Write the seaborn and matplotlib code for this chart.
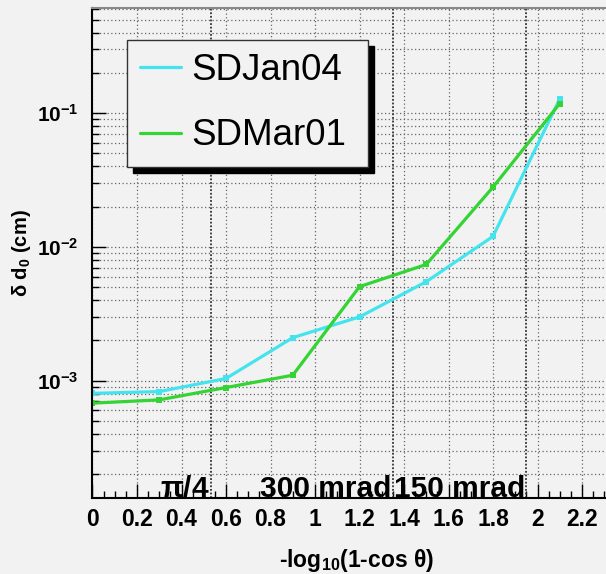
import numpy as np
import pandas as pd
import matplotlib
matplotlib.use("Agg")
import matplotlib.pyplot as plt
import matplotlib.ticker as mticker
import seaborn as sns
from matplotlib.lines import Line2D

# ---- data ----
x_vals = [0.0, 0.3, 0.6, 0.9, 1.2, 1.5, 1.8, 2.1]
sd_jan04 = [8.05e-4, 8.3e-4, 1.04e-3, 2.1e-3, 3.0e-3, 5.5e-3, 1.2e-2, 0.128]
sd_mar01 = [6.8e-4, 7.2e-4, 8.9e-4, 1.1e-3, 5.05e-3, 7.4e-3, 2.8e-2, 0.118]
series_names = ["SDJan04", "SDMar01"]
series_colors = ["#44e4ee", "#33d433"]
angle_values = [np.pi / 4, 0.300, 0.150]
angle_labels = [r"$\pi$/4", "300 mrad", "150 mrad"]
x_ticks = [0, 0.2, 0.4, 0.6, 0.8, 1, 1.2, 1.4, 1.6, 1.8, 2, 2.2]
x_tick_labels = ["0", "0.2", "0.4", "0.6", "0.8", "1", "1.2", "1.4", "1.6", "1.8", "2", "2.2"]

df = pd.DataFrame({
    "x": x_vals + x_vals,
    "y": sd_jan04 + sd_mar01,
    "series": [series_names[0]] * len(x_vals) + [series_names[1]] * len(x_vals),
})

sns.set_style("ticks")
bg = "#f2f2f2"
plt.rcParams.update({
    "font.family": ["Liberation Sans", "DejaVu Sans"],
    "mathtext.fontset": "custom",
    "mathtext.rm": "Liberation Sans:bold",
    "mathtext.bf": "Liberation Sans:bold",
    "mathtext.it": "Liberation Sans:bold:italic",
    "mathtext.default": "bf",
    "figure.facecolor": bg,
    "axes.facecolor": bg,
    "text.color": "black",
    "axes.labelcolor": "black",
    "xtick.color": "black",
    "ytick.color": "black",
    "xtick.labelcolor": "black",
    "ytick.labelcolor": "black",
})

W, H = 606, 574
fig = plt.figure(figsize=(W / 100, H / 100), dpi=100)
left_px, right_px, top_px, bot_px = 92.5, 620, 7.5, 498
ax = fig.add_axes([left_px / W, 1 - bot_px / H, (right_px - left_px) / W, (bot_px - top_px) / H])
px_per_unit = 222.5

sns.lineplot(data=df, x="x", y="y", hue="series", palette=series_colors,
             marker="s", markersize=4.5, markeredgewidth=0, linewidth=2.3,
             ax=ax, legend=False)

ax.set_yscale("log")
ax.set_xlim(0, (right_px - left_px) / px_per_unit)
ax.set_ylim(1.33e-4, 0.616)

ax.set_xticks(x_ticks)
ax.set_xticklabels(x_tick_labels, fontsize=16.5, fontweight="bold")
ax.xaxis.set_minor_locator(mticker.MultipleLocator(0.05))
ax.yaxis.set_major_locator(mticker.LogLocator(base=10, numticks=10))
ax.yaxis.set_minor_locator(mticker.LogLocator(base=10, subs=np.arange(2, 10), numticks=20))
ax.yaxis.set_minor_formatter(mticker.NullFormatter())
ax.yaxis.set_major_formatter(mticker.FuncFormatter(
    lambda v, p: r"$\mathbf{10^{%d}}$" % int(round(np.log10(v)))))

ax.tick_params(axis="both", which="major", direction="in", length=10, width=1,
               color="black", labelcolor="black")
ax.tick_params(axis="x", which="major", labelsize=16.5, pad=7)
ax.tick_params(axis="y", which="major", labelsize=15, pad=10)
ax.tick_params(axis="both", which="minor", direction="in", length=5, width=1, color="black")
ax.tick_params(top=False, right=False, which="both")

# grid
ax.grid(True, which="major", axis="x", color="#666666", linestyle=(0, (1, 2)), linewidth=0.9)
ax.grid(True, which="both", axis="y", color="#666666", linestyle=(0, (1, 2)), linewidth=0.9)
ax.set_axisbelow(True)

# angle reference lines
for ang, lab in zip(angle_values, angle_labels):
    xa = -np.log10(1 - np.cos(ang))
    ax.axvline(xa, color="#333333", linestyle=(0, (1, 1)), linewidth=1.3, zorder=1)
    ax.text(xa - 0.005, 0.002, lab, transform=ax.get_xaxis_transform(),
            ha="right", va="baseline", fontsize=21.5, fontweight="bold", color="black", zorder=6)

# spines
for s in ["left", "bottom"]:
    ax.spines[s].set_color("black")
    ax.spines[s].set_linewidth(1.5)
ax.spines["top"].set_color("#888888")
ax.spines["top"].set_linewidth(1.5)
ax.spines["right"].set_visible(False)

ax.set_xlabel(r"-log$_{10}$(1-cos $\theta$)", fontsize=16.5, fontweight="bold", labelpad=12,
              color="black")
ax.set_ylabel(r"$\delta$ d$_{0}$ (cm)", fontsize=14.5, fontweight="bold", color="black")
ax.yaxis.set_label_coords((33 - left_px) / (right_px - left_px), 0.5)

# legend
handles = [Line2D([], [], color=c, linewidth=2.3) for c in series_colors]
lx0, ly0, lx1, ly1 = 127, 40, 368, 170
leg = ax.legend(handles, series_names, loc="upper left",
                bbox_to_anchor=(lx0 / W, 1 - ly1 / H, (lx1 - lx0) / W, (ly1 - ly0) / H),
                bbox_transform=fig.transFigure, mode="expand", borderaxespad=0,
                fontsize=26.5, handlelength=1.1, handletextpad=0.28, borderpad=0.36,
                labelspacing=0.82, fancybox=False, framealpha=1, facecolor=bg,
                edgecolor="#333333", labelcolor="black",
                shadow={"ox": 4.5, "oy": -4.5, "color": "black", "alpha": 1})
leg.get_frame().set_linewidth(1.0)

fig.savefig("out.png", dpi=100, facecolor=bg)
